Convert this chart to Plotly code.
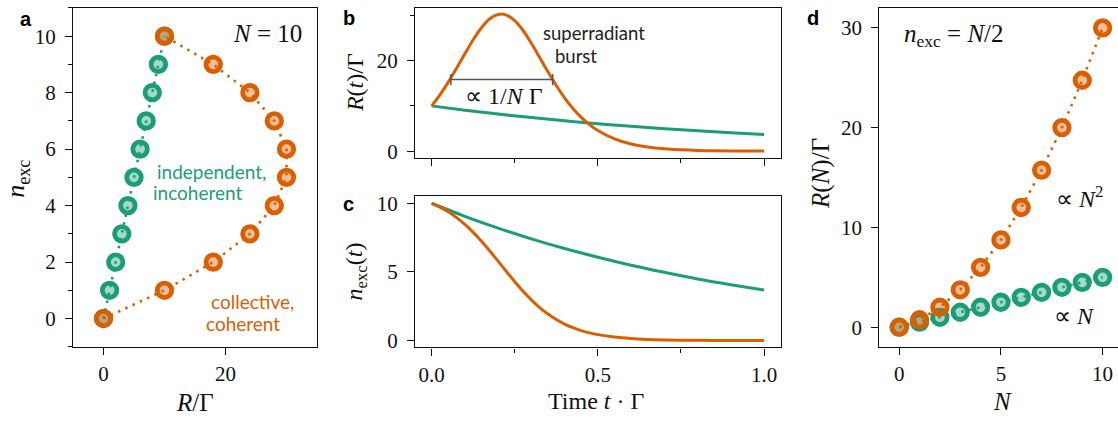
import plotly.graph_objects as go

W, H = 1118, 425
GREEN = "#1b9e77"
ORANGE = "#d95f02"
GREEN_FACE = "rgba(27,158,119,0.4)"
ORANGE_FACE = "rgba(217,95,2,0.4)"
INK = "#111111"
SERIF = "Liberation Serif"
SANS = "Lato"

# ---- panel a : N = 10, rate vs excitation number ----
n_exc_a = [0, 1, 2, 3, 4, 5, 6, 7, 8, 9, 10]
R_indep_a = [0, 1, 2, 3, 4, 5, 6, 7, 8, 9, 10]
R_coll_a = [0, 10, 18, 24, 28, 30, 30, 28, 24, 18, 10]

# ---- panels b, c : time evolution ----
t_sr = [0, 0.025, 0.05, 0.075, 0.1, 0.125, 0.15, 0.175, 0.2, 0.225, 0.25,
        0.275, 0.3, 0.325, 0.35, 0.375, 0.4, 0.425, 0.45, 0.475, 0.5,
        0.55, 0.6, 0.65, 0.7, 0.75, 0.8, 0.85, 0.9, 0.95, 1.0]
R_sr = [10.0, 12.44, 15.23, 18.31, 21.49, 24.58, 27.24, 29.20, 30.17, 30.03, 28.78,
        26.62, 23.82, 20.69, 17.51, 14.49, 11.78, 9.44, 7.47, 5.86, 4.56,
        2.72, 1.60, 0.94, 0.54, 0.32, 0.18, 0.11, 0.06, 0.035, 0.02]
n_sr = [10.0, 9.72, 9.375, 8.956, 8.459, 7.882, 7.234, 6.526, 5.782, 5.027, 4.290,
        3.595, 2.964, 2.407, 1.930, 1.531, 1.203, 0.939, 0.728, 0.562, 0.432,
        0.253, 0.148, 0.086, 0.050, 0.029, 0.017, 0.010, 0.006, 0.003, 0.002]
t_ind = [0, 0.1, 0.2, 0.3, 0.4, 0.5, 0.6, 0.7, 0.8, 0.9, 1.0]
R_ind = [10.0, 9.05, 8.19, 7.41, 6.70, 6.07, 5.49, 4.97, 4.49, 4.07, 3.68]
n_ind = [10.0, 9.05, 8.19, 7.41, 6.70, 6.07, 5.49, 4.97, 4.49, 4.07, 3.68]
burst_width_t = [0.058, 0.364]
burst_width_R = [15.8, 15.8]

# ---- panel d : n_exc = N/2 ----
N_d = [0, 1, 2, 3, 4, 5, 6, 7, 8, 9, 10]
R_indep_d = [0, 0.5, 1, 1.5, 2, 2.5, 3, 3.5, 4, 4.5, 5]
R_coll_d = [0, 0.75, 2, 3.75, 6, 8.75, 12, 15.75, 20, 24.75, 30]


def px(x):
    return x / W


def py(y):
    return 1 - y / H


fig = go.Figure()

DOT = "2.5px,5.5px"


def dotted_markers(x, y, col, face, xa, ya):
    fig.add_trace(go.Scatter(
        x=x, y=y, mode="lines+markers", xaxis=xa, yaxis=ya,
        line=dict(color=col, width=2.6, dash=DOT),
        marker=dict(size=14.5, color=face, line=dict(color=col, width=4.8)),
        showlegend=False, hoverinfo="skip"))


# panel a
dotted_markers(R_indep_a, n_exc_a, GREEN, GREEN_FACE, "x", "y")
dotted_markers(R_coll_a, n_exc_a, ORANGE, ORANGE_FACE, "x", "y")

# panel b
fig.add_trace(go.Scatter(x=t_ind, y=R_ind, mode="lines", xaxis="x2", yaxis="y2",
                         line=dict(color=GREEN, width=3, shape="spline"),
                         showlegend=False, hoverinfo="skip"))
fig.add_trace(go.Scatter(x=t_sr, y=R_sr, mode="lines", xaxis="x2", yaxis="y2",
                         line=dict(color=ORANGE, width=3, shape="spline"),
                         showlegend=False, hoverinfo="skip"))
fig.add_trace(go.Scatter(x=burst_width_t, y=burst_width_R, mode="lines+markers",
                         xaxis="x2", yaxis="y2",
                         line=dict(color="#555555", width=1.5),
                         marker=dict(symbol="line-ns-open", size=8,
                                     line=dict(color="#333333", width=1.5)),
                         showlegend=False, hoverinfo="skip"))

# panel c
fig.add_trace(go.Scatter(x=t_ind, y=n_ind, mode="lines", xaxis="x3", yaxis="y3",
                         line=dict(color=GREEN, width=3, shape="spline"),
                         showlegend=False, hoverinfo="skip"))
fig.add_trace(go.Scatter(x=t_sr, y=n_sr, mode="lines", xaxis="x3", yaxis="y3",
                         line=dict(color=ORANGE, width=3, shape="spline"),
                         showlegend=False, hoverinfo="skip"))

# panel d
dotted_markers(N_d, R_indep_d, GREEN, GREEN_FACE, "x4", "y4")
dotted_markers(N_d, R_coll_d, ORANGE, ORANGE_FACE, "x4", "y4")

tickfont = dict(family=SERIF, size=21, color=INK)


def ax(**kw):
    d = dict(showline=True, linecolor=INK, linewidth=1.3, mirror=True,
             ticks="outside", ticklen=7, tickwidth=1.3, tickcolor=INK,
             showgrid=False, zeroline=False, tickfont=tickfont)
    d.update(kw)
    return d


def minor(dt):
    return dict(ticks="outside", ticklen=4, tickwidth=1.1, tickcolor=INK,
                dtick=dt, showgrid=False)


fig.update_layout(
    width=W, height=H, margin=dict(l=0, r=0, t=0, b=0),
    paper_bgcolor="white", plot_bgcolor="white",
    xaxis=ax(domain=[px(73), px(317)], range=[-5, 35], tick0=0, dtick=20,
             anchor="y", ticklabelstandoff=1),
    yaxis=ax(domain=[py(350), py(3)], range=[-1, 11], tick0=0, dtick=2,
             minor=minor(1), anchor="x", ticklabelstandoff=5),
    xaxis2=ax(domain=[px(415), px(780.7)], range=[-0.05, 1.05], tick0=0, dtick=0.5,
              minor=minor(0.25), showticklabels=False, anchor="y2"),
    yaxis2=ax(domain=[py(156.7), py(3)], range=[-1.5, 31.6], tick0=0, dtick=20,
              minor=minor(10), anchor="x2", ticklabelstandoff=5),
    xaxis3=ax(domain=[px(415), px(780.7)], range=[-0.05, 1.05], tick0=0, dtick=0.5,
              minor=minor(0.25), tickformat=".1f", anchor="y3", ticklabelstandoff=1),
    yaxis3=ax(domain=[py(350.7), py(196)], range=[-0.5, 10.5], tick0=0, dtick=5,
              anchor="x3", ticklabelstandoff=5),
    xaxis4=ax(domain=[px(879.3), 1.0], range=[-0.98, 10.757], tick0=0, dtick=5,
              anchor="y4", ticklabelstandoff=1),
    yaxis4=ax(domain=[py(350), py(3)], range=[-1.96, 32.0], tick0=0, dtick=10,
              mirror=False, anchor="x4", ticklabelstandoff=5),
)

annots = []


def note(text, x, y, size=22, family=SERIF, color=INK, angle=0, xanchor="center",
         yanchor="middle"):
    annots.append(dict(text=text, x=px(x), y=py(y), xref="paper", yref="paper",
                       showarrow=False, xanchor=xanchor, yanchor=yanchor,
                       textangle=angle, font=dict(family=family, size=size, color=color)))


# panel letters
for letter, x, y in [("a", 25.5, 14), ("b", 348.5, 13), ("c", 348.5, 204), ("d", 813, 13)]:
    note("<b>%s</b>" % letter, x, y, size=20, family="Liberation Sans", color="#000000")

# axis titles
note("<i>R</i>/Γ", 195, 407, size=25)
note("Time <i>t</i> · Γ", 596, 406, size=24)
note("<i>N</i>", 1002, 406, size=25)
note("<i>n</i><sub>exc</sub>", 17, 178, size=26, angle=-90)
note("<i>R</i>(<i>t</i>)/Γ", 355, 80, size=24, angle=-90)
note("<i>n</i><sub>exc</sub>(<i>t</i>)", 356, 273, size=24, angle=-90)
note("<i>R</i>(<i>N</i>)/Γ", 821, 173, size=25, angle=-90)

# in-plot labels
note("<i>N</i> = 10", 304, 29, size=25, xanchor="right")
note("independent,", 155, 171, size=19, family=SANS, color=GREEN, xanchor="left")
note("incoherent", 151, 192, size=19, family=SANS, color=GREEN, xanchor="left")
note("collective,", 209, 304, size=19, family=SANS, color=ORANGE, xanchor="left")
note("coherent", 204, 326, size=19, family=SANS, color=ORANGE, xanchor="left")
note("superradiant", 594, 29, size=18.5, family=SANS, color="#222222")
note("burst", 576, 52, size=18.5, family=SANS, color="#222222")
note("∝ 1/<i>N</i> Γ", 504, 93, size=24)
note("<i>n</i><sub>exc</sub> = <i>N</i>/2", 954, 31, size=25)
note("∝ <i>N</i><sup>2</sup>", 1079, 197, size=24)
note("∝ <i>N</i>", 1074, 319, size=24)

fig.update_layout(annotations=annots)
fig.write_html("out.html")
